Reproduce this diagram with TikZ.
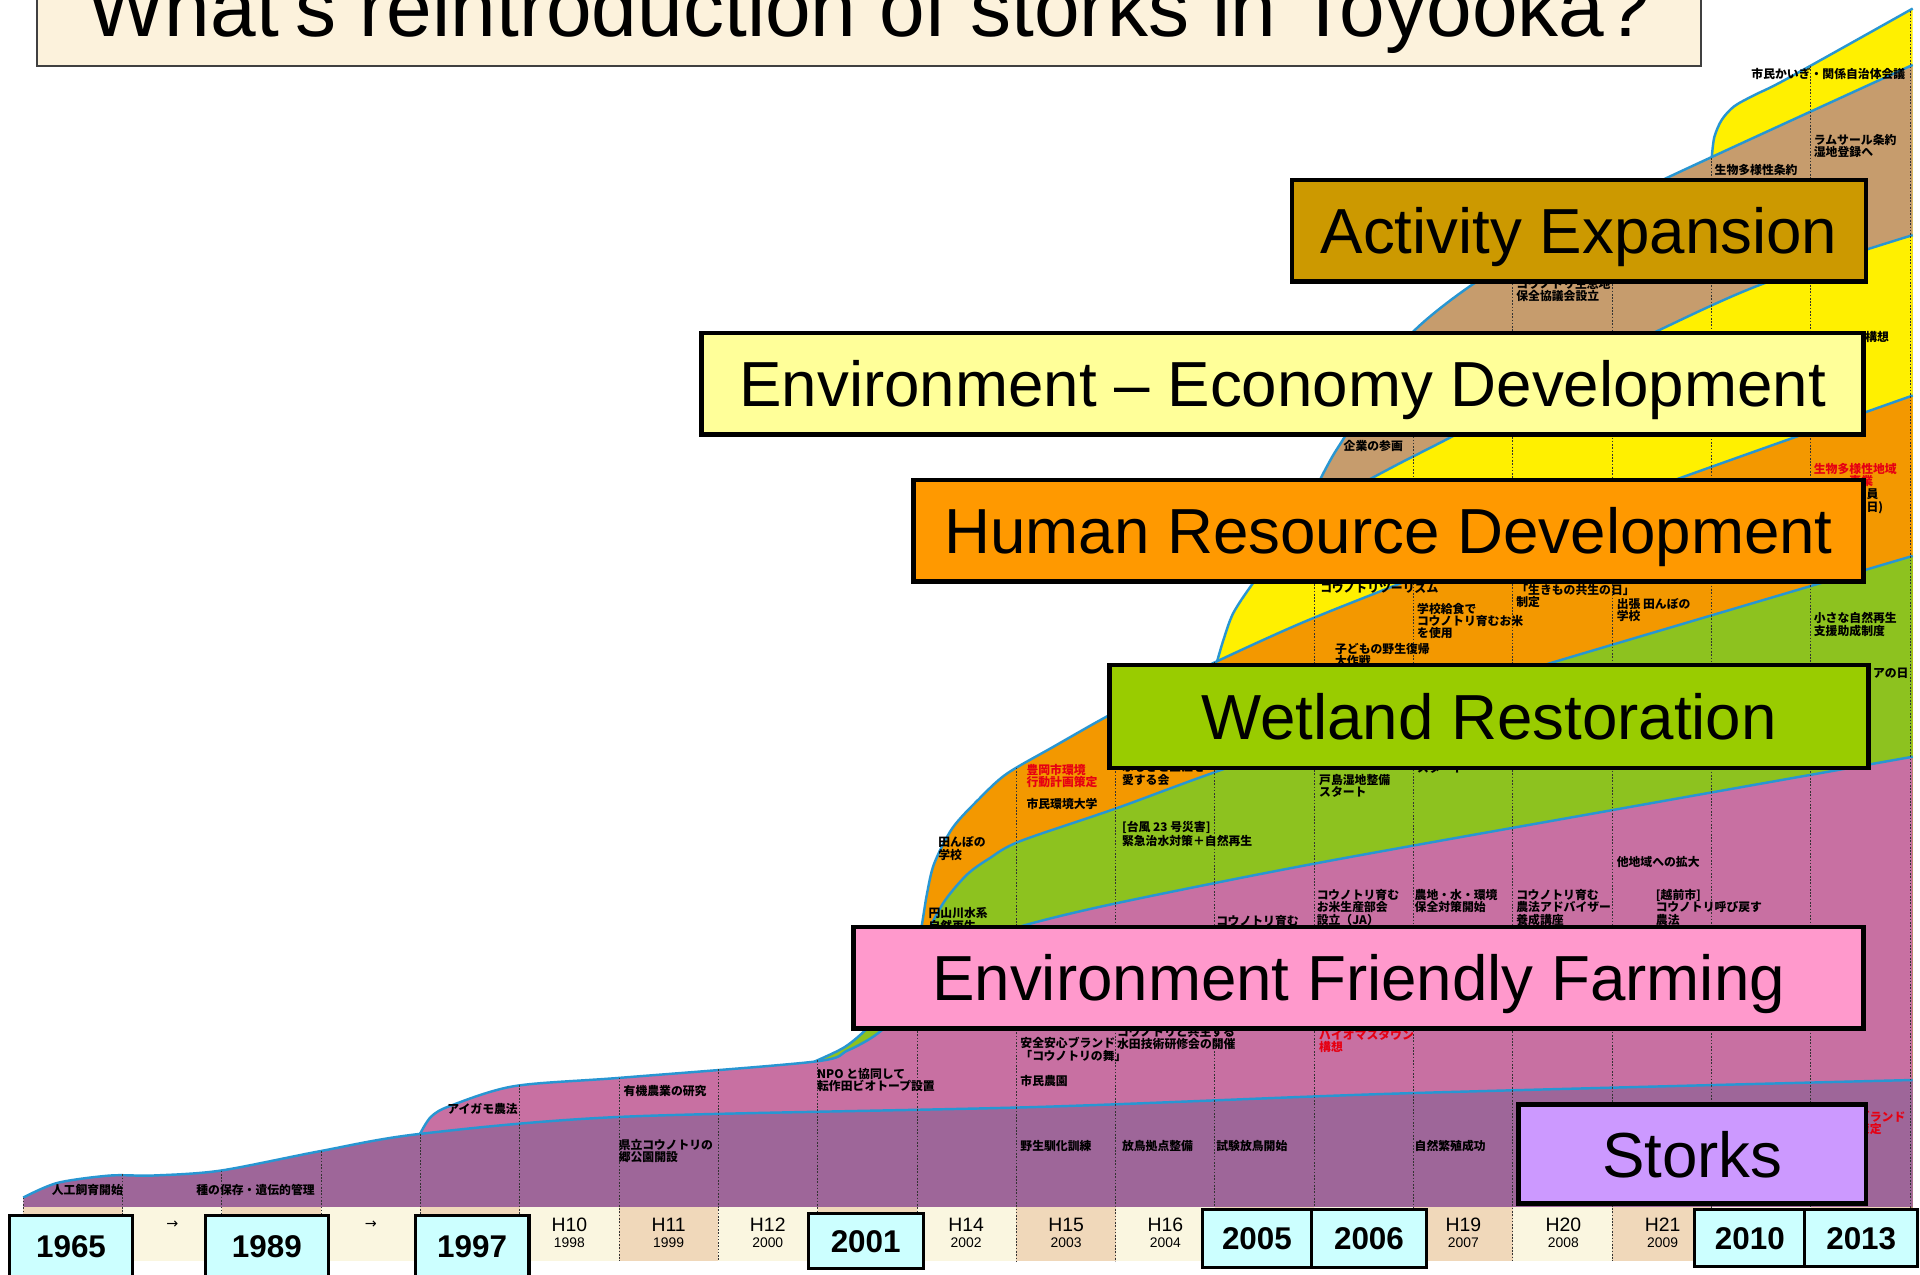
\documentclass[tikz,border=0pt]{standalone}
\usepackage{fontspec}
\setmainfont{Liberation Sans}
\newfontfamily\jp{Noto Sans CJK JP}
\newfontfamily\dv{DejaVu Sans}
\definecolor{storkc}{RGB}{158,102,153}
\definecolor{farmc}{RGB}{200,112,162}
\definecolor{wetc}{RGB}{141,194,31}
\definecolor{hrc}{RGB}{243,152,0}
\definecolor{ecoc}{RGB}{255,240,0}
\definecolor{actc}{RGB}{198,156,109}
\definecolor{blc}{RGB}{40,150,210}
\definecolor{creamc}{RGB}{250,246,224}
\definecolor{tanc}{RGB}{240,216,186}
\definecolor{ybox}{RGB}{204,255,255}
\definecolor{actbox}{RGB}{204,153,0}
\definecolor{ecobox}{RGB}{255,255,153}
\definecolor{hrbox}{RGB}{255,153,0}
\definecolor{wetbox}{RGB}{153,204,0}
\definecolor{farmbox}{RGB}{255,153,204}
\definecolor{storkbox}{RGB}{204,153,255}
\definecolor{titlec}{RGB}{252,242,220}
\definecolor{redtx}{RGB}{230,0,18}
\newcommand{\stacklayer}[3]{%
  \fill[#1] plot[smooth,tension=0.5] coordinates {#3} -- (1562,986) -- (#2,986) -- cycle;
  \draw[bline] plot[smooth,tension=0.5] coordinates {#3};}
\begin{document}
\begin{tikzpicture}[x=0.6pt,y=-0.6pt,
  jl/.style={font=\jp\bfseries\fontsize{5.8}{6}\selectfont, align=left, inner sep=0pt, anchor=north west, text=black},
  jr/.style={jl, text=redtx},
  bigbox/.style={draw=black, line width=2.2pt, inner sep=0pt, text height=22.5pt, text depth=0pt, font=\fontsize{31.2}{36}\selectfont},
  yearbox/.style={draw=black, line width=1.5pt, fill=ybox, inner sep=0pt, text height=11.1pt, text depth=0pt, font=\bfseries\fontsize{15.4}{18}\selectfont},
  hlab/.style={font=\fontsize{9.5}{11}\selectfont, inner sep=0pt},
  ylab/.style={font=\fontsize{6.8}{8}\selectfont, inner sep=0pt},
  dotl/.style={line width=0.5pt, black!80, dash pattern=on 0.8pt off 0.8pt},
  bline/.style={line width=1.2pt, color=blc}]
\useasboundingbox (0,0) rectangle (1568,1041);
\clip (0,0) rectangle (1568,1041);
\fill[white] (0,0) rectangle (1568,1041);

% title
\fill[titlec] (30,-10) rectangle (1389,54);
\draw[line width=1.2pt, black!75] (30,-10) rectangle (1389,54);
\node[font=\fontsize{40.2}{48}\selectfont, anchor=base, inner sep=0pt] (title) at (709.5,30) {What’s reintroduction of storks in Toyooka?};

% stacked bands (top layer first)
\stacklayer{ecoc}{1398}{(1398,128) (1400,112) (1406,98) (1416,87) (1432,78) (1460,64) (1562,7)}
\stacklayer{actc}{1068}{(1068,425) (1072,408) (1078,392) (1088,373) (1098,357) (1125,313) (1153,272) (1203,232) (1280,186) (1364,144) (1562,53)}
\stacklayer{ecoc}{994}{(994,540) (999,523) (1007,501) (1022,478) (1042,452) (1068,425) (1100,402) (1140,380) (1183,358) (1270,312) (1350,272) (1439,232) (1562,192)}
\stacklayer{hrc}{745}{(745,790) (752,760) (757,730) (763,705) (778,676) (800,652) (822,632) (860,610) (906,584) (950,562) (994,540) (1060,510) (1127,483) (1250,435) (1376,389) (1562,323)}
\stacklayer{wetc}{665}{(665,867) (690,855) (710,838) (728,815) (745,790) (758,760) (772,735) (790,714) (808,701) (833,687) (912,660) (991,631) (1130,583) (1268,541) (1562,454)}
\stacklayer{farmc}{343}{(343,926) (352,912) (368,903) (420,887) (509,880) (665,867) (692,858) (714,846) (735,828) (760,800) (795,772) (832,757) (910,738) (1075,705) (1320,661) (1562,618)}
\stacklayer{storkc}{19}{(19,978) (47,966) (90,960) (125,960) (180,956) (262,940) (343,926) (509,912) (848,904) (1143,893) (1562,882)}

% timeline strip
\fill[creamc] (19,986) rectangle (1560,1030);
\foreach \i in {0,2,...,18} \fill[tanc] ({19+81.1*\i},986) rectangle ({19+81.1*(\i+1)},1030);

% dotted year separators
\foreach \x/\t in {19/978, 100.1/959, 181.2/956, 262.3/940, 343.4/926, 424.5/886, 505.6/880, 586.7/873, 667.8/866, 748.9/778, 830/627, 911.1/582, 992.2/541, 1073.3/405, 1154.4/271, 1235.5/213, 1316.6/168, 1397.7/129, 1478.8/54, 1559.9/9}
  \draw[dotl] (\x,\t) -- (\x,1030);

% strip labels
\node[font=\dv\fontsize{7}{8}\selectfont, inner sep=0pt] (ar1) at (140.7,1000) {→};
\node[font=\dv\fontsize{7}{8}\selectfont, inner sep=0pt] (ar2) at (302.9,1000) {→};
\foreach \c/\h/\y in {465/H10/1998, 546/H11/1999, 627/H12/2000, 789/H14/2002, 870.6/H15/2003, 951.7/H16/2004, 1195/H19/2007, 1276.7/H20/2008, 1357.8/H21/2009}{
  \node[hlab] (h\h) at (\c,1000) {\h};
  \node[ylab] (g\y) at (\c,1015) {\y};
}

% year boxes
\node[yearbox, minimum width=60pt, minimum height=30pt] (y1965) at (58,1018) {1965};
\node[yearbox, minimum width=60pt, minimum height=30pt] (y1989) at (218,1018) {1989};
\node[yearbox, minimum width=55.8pt, minimum height=30pt] (y1997) at (385.5,1018) {1997};
\node[yearbox, minimum width=56.4pt, minimum height=27pt] (y2001) at (707,1013.5) {2001};
\node[yearbox, minimum width=53.4pt, minimum height=28.2pt] (y2005) at (1026.5,1011.5) {2005};
\node[yearbox, minimum width=56.4pt, minimum height=28.2pt] (y2006) at (1118,1011.5) {2006};
\node[yearbox, minimum width=54pt, minimum height=27.6pt] (y2010) at (1429,1011) {2010};
\node[yearbox, minimum width=55.2pt, minimum height=27.6pt] (y2013) at (1520,1011) {2013};

% Japanese event labels
\node[jl] (j1) at (42,967) {人工飼育開始};
\node[jl] (j2) at (160,967) {種の保存・遺伝的管理};
\node[jl] (j3) at (505,930) {県立コウノトリの\\郷公園開設};
\node[jl] (j4) at (833,931) {野生馴化訓練};
\node[jl] (j5) at (916,931) {放鳥拠点整備};
\node[jl] (j6) at (993,931) {試験放鳥開始};
\node[jl] (j7) at (1155,931) {自然繁殖成功};
\node[jr] (j8) at (1517,907) {グランド\\策定};
\node[jl] (j9) at (365,901) {アイガモ農法};
\node[jl] (j10) at (509,886) {有機農業の研究};
\node[jl] (j11) at (667,872) {NPO と協同して\\転作田ビオトープ設置};
\node[jl] (j12) at (833,878) {市民農園};
\node[jl] (j13) at (833,847) {安全安心ブランド\\「コウノトリの舞」};
\node[jl] (j14) at (912,838) {コウノトリと共生する\\水田技術研修会の開催};
\node[jr] (j15) at (1077,840) {バイオマスタウン\\構想};
\node[jl] (j16) at (1075,726) {コウノトリ育む\\お米生産部会\\設立（JA）};
\node[jl] (j17) at (1155,726) {農地・水・環境\\保全対策開始};
\node[jl] (j18) at (1238,726) {コウノトリ育む\\農法アドバイザー\\養成講座};
\node[jl] (j19) at (1352,726) {[越前市]\\コウノトリ呼び戻す\\農法};
\node[jl] (j20) at (1320,699) {他地域への拡大};
\node[jl] (j21) at (993,747) {コウノトリ育む};
\node[jl] (j22) at (758,741) {円山川水系\\自然再生};
\node[jl] (j23) at (916,670) {[台風 23 号災害]\\ 緊急治水対策＋自然再生};
\node[jl] (j24) at (1077,632) {戸島湿地整備\\スタート};
\node[jl] (j25) at (1157,622) {スタート};
\node[jl] (j26) at (1481,500) {小さな自然再生\\支援助成制度};
\node[jl] (j27) at (1481.5,545) {ボランティアの日};
\node[jl] (j28) at (766,683) {田んぼの\\学校};
\node[jr] (j29) at (838,624) {豊岡市環境\\行動計画策定};
\node[jl] (j30) at (838,652) {市民環境大学};
\node[jl] (j31) at (916,622) {ふるさと三江を\\愛する会};
\node[jl] (j32) at (1090,525) {子どもの野生復帰\\大作戦};
\node[jl] (j33) at (1157,492) {学校給食で\\コウノトリ育むお米\\を使用};
\node[jl] (j34) at (1238,477) {「生きもの共生の日」\\制定};
\node[jl] (j35) at (1320,488) {出張 田んぼの\\学校};
\node[jr] (j36) at (1481,378) {生物多様性地域\\　　　事業};
\node[jl] (j37) at (1524,399) {員\\日)};
\node[jl] (j38) at (1078,475) {コウノトリツーリズム};
\node[jl] (j39) at (1097,359) {企業の参画};
\node[jl] (j40) at (1523,270) {構想};
\node[jl] (j41) at (1238,227) {コウノトリ生息地\\保全協議会設立};
\node[jl] (j42) at (1400,134) {生物多様性条約};
\node[jl] (j43) at (1481,109) {ラムサール条約\\湿地登録へ};
\node[jl] (j44) at (1430,55) {市民かいぎ・関係自治体会議};

% category boxes
\node[bigbox, fill=actbox, minimum width=281.4pt, minimum height=49.8pt] (actB) at (1289.5,188.5) {Activity Expansion};
\node[bigbox, fill=ecobox, minimum width=569.4pt, minimum height=49.8pt] (ecoB) at (1047.5,313.5) {Environment – Economy Development};
\node[bigbox, fill=hrbox, minimum width=465.6pt, minimum height=49.8pt] (hrB) at (1134,433.5) {Human Resource Development};
\node[bigbox, fill=wetbox, minimum width=372pt, minimum height=50.4pt] (wetB) at (1216,585) {Wetland Restoration};
\node[bigbox, fill=farmbox, minimum width=495pt, minimum height=49.8pt] (farmB) at (1109.5,798.5) {Environment Friendly Farming};
\node[bigbox, fill=storkbox, minimum width=170.4pt, minimum height=48.6pt] (storkB) at (1382,942.5) {Storks};
\end{tikzpicture}
\end{document}
